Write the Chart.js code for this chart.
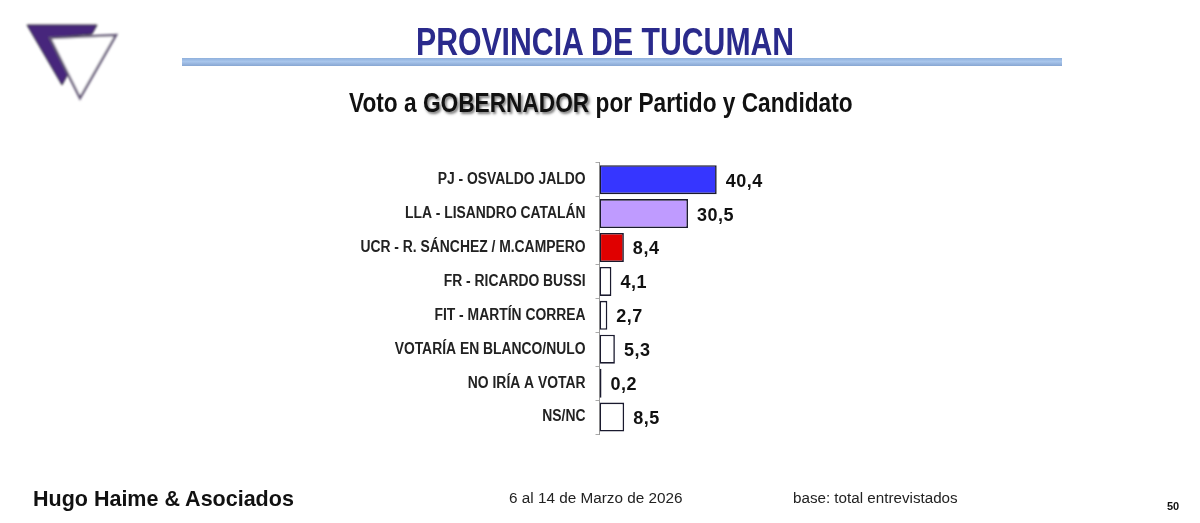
<!DOCTYPE html>
<html><head><meta charset="utf-8">
<script src="https://cdn.jsdelivr.net/npm/chart.js@4"></script>
<style>
html,body{margin:0;padding:0;background:#fff;width:1200px;height:523px;overflow:hidden}
#wrap{position:relative;width:1200px;height:523px}
canvas{position:absolute;left:0;top:0}
.t{position:absolute;white-space:nowrap;font-family:"Liberation Sans",Arial,sans-serif;line-height:1;transform-origin:0 0}
#title{left:416px;top:23px;font-size:38px;font-weight:700;color:#2a2a8c;transform:scaleX(.795)}
#sub{left:349px;top:89px;font-size:28px;font-weight:700;color:#111;transform:scaleX(.81)}
#sub b{text-shadow:2px 2px 3px #777}
#rule{position:absolute;left:182px;top:58px;width:880px;height:8px;background:linear-gradient(#8fb0dc 0,#a9c6ec 45%,#87a6d2 100%)}
#logo{position:absolute;left:20px;top:20px}
</style></head><body><div id="wrap">
<canvas id="c" width="1200" height="523"></canvas>
<svg id="logo" width="105" height="85" viewBox="0 0 105 85">
<defs><filter id="bl"><feGaussianBlur stdDeviation="0.8"/></filter></defs>
<g filter="url(#bl)">
<polygon points="7,5 77,5 72,14 29,18 48,54 42,65" fill="#47277c" stroke="#333" stroke-width="1"/>
<polygon points="30,18 96,15 60,78" fill="#fff" stroke="#655a78" stroke-width="2.5"/>
</g></svg>
<div id="title" class="t">PROVINCIA DE TUCUMAN</div>
<div id="rule"></div>
<div id="sub" class="t">Voto a <b>GOBERNADOR</b> por Partido y Candidato</div>
<div class="t" style="left:33px;top:489px;font-size:21.5px;font-weight:700;color:#111">Hugo Haime &amp; Asociados</div>
<div class="t" style="left:509px;top:490px;font-size:15.3px;color:#222">6 al 14 de Marzo de 2026</div>
<div class="t" style="left:793px;top:490px;font-size:15.2px;color:#222">base: total entrevistados</div>
<div class="t" style="left:1167px;top:501px;font-size:11px;font-weight:700;color:#111">50</div>
</div>
<script>
const categories=["PJ - OSVALDO JALDO","LLA - LISANDRO CATALÁN","UCR - R. SÁNCHEZ / M.CAMPERO","FR - RICARDO BUSSI","FIT - MARTÍN CORREA","VOTARÍA EN BLANCO/NULO","NO IRÍA A VOTAR","NS/NC"];
const values=[40.4,30.5,8.4,4.1,2.7,5.3,0.2,8.5];
const barColors=["#3636ff","#bf9bff","#e00000","#ffffff","#ffffff","#ffffff","#ffffff","#ffffff"];
const valueLabels=["40,4","30,5","8,4","4,1","2,7","5,3","0,2","8,5"];
const axisLeft=599.5, labelRight=585.5, labelSqueeze=0.867;
const condensePlugin={id:'condense',beforeDraw(chart){
  const y=chart.scales.y; if(y._wrapped) return; y._wrapped=true;
  const orig=y.drawLabels.bind(y);
  y.drawLabels=function(a){const c=y.ctx;c.save();c.translate(labelRight,0);c.scale(labelSqueeze,1);c.translate(-labelRight,0);orig(a);c.restore();};
}};
const valueLabelPlugin={id:'valueLabels',afterDatasetsDraw(chart){
  const ctx=chart.ctx,meta=chart.getDatasetMeta(0);
  ctx.save();ctx.letterSpacing='0.5px';ctx.font='700 18px "Liberation Sans",Arial,sans-serif';ctx.fillStyle='#111';
  ctx.textAlign='left';ctx.textBaseline='middle';
  meta.data.forEach((b,i)=>ctx.fillText(valueLabels[i],b.x+9,b.y+2));
  ctx.restore();
}};
new Chart(document.getElementById('c'),{
  type:'bar',
  data:{labels:categories,datasets:[{data:values,backgroundColor:barColors,borderColor:'#1a1a2e',borderWidth:1.6,borderSkipped:false,minBarLength:2,barPercentage:1,categoryPercentage:0.855}]},
  plugins:[condensePlugin,valueLabelPlugin],
  options:{indexAxis:'y',responsive:false,animation:false,devicePixelRatio:1,
    layout:{padding:{left:0,right:310.4,top:162.7,bottom:89}},
    plugins:{legend:{display:false},tooltip:{enabled:false}},
    scales:{
      x:{display:false,min:0,max:100},
      y:{afterFit(s){s.width=axisLeft;},
        grid:{drawOnChartArea:false,color:'#aaa',tickLength:4,offset:true},
        border:{color:'#999',width:1},
        ticks:{color:'#222',padding:10,autoSkip:false,font:{family:'"Liberation Sans",Arial,sans-serif',weight:'700',size:16}}}
    }}
});
</script></body></html>
